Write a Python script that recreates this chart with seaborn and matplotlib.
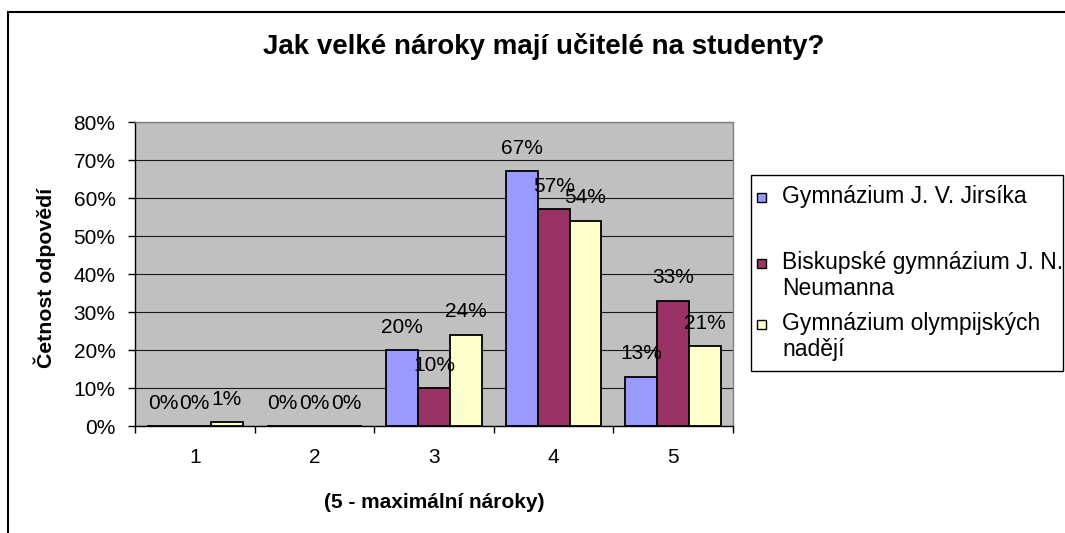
import matplotlib
matplotlib.use("Agg")
import matplotlib.pyplot as plt
from matplotlib.patches import Rectangle
import seaborn as sns
import pandas as pd

# ---- data ----
categories = ["1", "2", "3", "4", "5"]
schools = ["Gymnázium J. V. Jirsíka",
           "Biskupské gymnázium J. N.\nNeumanna",
           "Gymnázium olympijských\nnadějí"]
jirsik = [0, 0, 20, 67, 13]
neumann = [0, 0, 10, 57, 33]
olymp = [1, 0, 24, 54, 21]
y_ticks = [0, 10, 20, 30, 40, 50, 60, 70, 80]
colors = ["#9999FF", "#993366", "#FFFFCC"]

series = [jirsik, neumann, olymp]
rows = []
for s, vals in zip(schools, series):
    for c, v in zip(categories, vals):
        rows.append({"kat": c, "val": v, "skola": s})
df = pd.DataFrame(rows)

sns.set_style("white")
plt.rcParams["font.family"] = ["Liberation Sans", "DejaVu Sans"]
plt.rcParams["text.color"] = "black"
plt.rcParams["axes.labelcolor"] = "black"
plt.rcParams["xtick.color"] = "black"
plt.rcParams["ytick.color"] = "black"

W, H = 1065, 533
fig = plt.figure(figsize=(W / 100, H / 100), dpi=100)
L, R, T, B = 135, 733, 122, 426
ax = fig.add_axes([L / W, 1 - B / H, (R - L) / W, (B - T) / H])
ax.set_facecolor("#C0C0C0")

sns.barplot(data=df, x="kat", y="val", hue="skola", hue_order=schools,
            order=categories, palette=colors, saturation=1, width=0.8,
            edgecolor="black", linewidth=1.3, legend=False, ax=ax)

# data labels
for cont in ax.containers:
    for bar in cont:
        h = bar.get_height()
        ax.annotate(f"{h:.0f}%", (bar.get_x() + bar.get_width() / 2, h),
                    xytext=(0, 16.5), textcoords="offset points",
                    ha="center", va="center", fontsize=15, color="black")

ax.set_xlim(-0.5, 4.5)
ax.set_ylim(0, 80)
ax.set_yticks(y_ticks)
ax.set_yticklabels([f"{v}%" for v in y_ticks])
ax.yaxis.grid(True, color="#1a1a1a", linewidth=0.8)
ax.xaxis.grid(False)
ax.set_axisbelow(True)

ax.set_xticks(range(len(categories)))
ax.set_xticklabels(categories)
ax.set_xticks([i - 0.5 for i in range(len(categories) + 1)], minor=True)
ax.tick_params(axis="x", which="major", length=0, pad=16, labelsize=15)
ax.tick_params(axis="x", which="minor", length=5, width=1, color="black",
               direction="out", bottom=True)
ax.tick_params(axis="y", which="major", length=5, width=1, color="black",
               direction="out", left=True, pad=9, labelsize=15)

for side in ["left", "bottom"]:
    ax.spines[side].set_color("black")
    ax.spines[side].set_linewidth(1)
for side in ["top", "right"]:
    ax.spines[side].set_color("#808080")
    ax.spines[side].set_linewidth(1)

ax.set_xlabel("(5 - maximální nároky)", fontsize=15, fontweight="bold")
ax.xaxis.set_label_coords(0.5, -0.25)
ax.xaxis.label.set_va("center")
ax.set_ylabel("Četnost odpovědí", fontsize=15.3, fontweight="bold")
ax.yaxis.set_label_coords(-0.1505, 0.488)
ax.yaxis.label.set_va("center")

fig.text(544 / W, 1 - 47 / H, "Jak velké nároky mají učitelé na studenty?",
         ha="center", va="center", fontsize=20, fontweight="bold")

# legend (Excel-style box drawn in figure pixel coordinates)
def fx(px):
    return px / W


def fy(py):
    return 1 - py / H


fig.add_artist(Rectangle((fx(751), fy(371)), fx(1063) - fx(751), fy(175) - fy(371),
                         transform=fig.transFigure, facecolor="white",
                         edgecolor="black", linewidth=1))
legend_rows = [197, 263, 324]
for name, col, yc in zip(schools, colors, legend_rows):
    fig.add_artist(Rectangle((fx(757), fy(yc + 4.5)), fx(766) - fx(757),
                             fy(yc - 4.5) - fy(yc + 4.5),
                             transform=fig.transFigure, facecolor=col,
                             edgecolor="black", linewidth=1))
    fig.text(fx(782), fy(yc - 12), name, ha="left", va="top",
             fontsize=16.5, linespacing=1.15)

# outer chart border
fig.add_artist(Rectangle((8 / W, -0.05), 1.0, 1.05 - 12 / H,
                         transform=fig.transFigure, fill=False,
                         edgecolor="black", linewidth=1.5))

fig.savefig("out.png", dpi=100, facecolor="white")
